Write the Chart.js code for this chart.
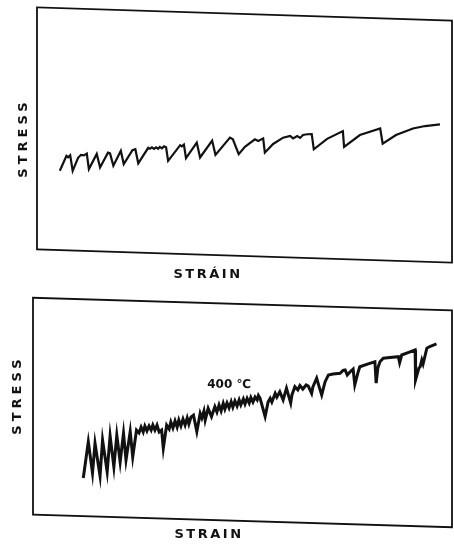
<!DOCTYPE html>
<html>
<head>
<meta charset="utf-8">
<script src="https://cdn.jsdelivr.net/npm/chart.js@4.4.1/dist/chart.umd.min.js"></script>
<style>
  body { margin: 0; background: #fff; }
  canvas { position: absolute; left: 0; }
</style>
</head>
<body>
<canvas id="chart-top" width="454" height="290" style="top:0"></canvas>
<canvas id="chart-bottom" width="454" height="258" style="top:290px"></canvas>
<script>
// upper record: serrated curve, strain / stress in arbitrary units (0-100 across the box)
const topStrain = [5.5, 7.1, 7.5, 8.0, 8.6, 9.9, 10.6, 11.3, 12.0, 12.5,
  14.4, 15.2, 17.1, 17.6, 18.4, 20.2, 20.9, 23.0, 23.7, 24.4,
  26.8, 27.2, 27.7, 28.2, 28.7, 29.2, 29.6, 30.1, 30.6, 31.1,
  31.6, 34.5, 34.9, 35.4, 35.9, 38.5, 39.3, 42.2, 43.0, 46.5,
  47.2, 48.6, 50.1, 52.5, 53.3, 54.5, 54.9, 56.9, 59.3, 61.0,
  61.7, 62.7, 63.4, 64.1, 65.1, 66.2, 66.7, 69.9, 73.7, 74.0,
  77.8, 82.7, 83.3, 86.5, 90.6, 93.5, 97.1];
const topStress = [35.2, 41.4, 40.8, 41.6, 35.2, 40.6, 41.8, 41.6, 42.3, 35.9,
  42.2, 36.6, 42.7, 42.4, 37.3, 43.5, 38.0, 43.7, 44.1, 38.3,
  44.7, 44.3, 44.9, 44.3, 44.9, 44.3, 45.1, 44.5, 45.3, 44.9,
  39.3, 45.8, 45.3, 46.0, 40.4, 46.8, 40.7, 47.7, 41.8, 48.9,
  48.2, 42.1, 45.1, 48.2, 47.5, 48.6, 42.7, 46.3, 48.9, 49.6,
  48.6, 49.6, 48.8, 50.0, 50.3, 50.4, 44.1, 48.4, 51.6, 45.1,
  50.0, 52.7, 46.4, 50.0, 52.7, 53.7, 54.4];

// lower record (400 C)
const bottomStrain = [12.0, 13.2, 14.2, 14.8, 16.0, 16.6, 17.7, 18.4, 19.3, 20.0,
  20.8, 21.6, 22.2, 23.2, 23.8, 24.7, 25.3, 25.8, 26.3, 26.7,
  27.2, 27.7, 28.2, 28.6, 29.1, 29.6, 30.1, 30.7, 31.1, 31.9,
  32.5, 32.9, 33.4, 33.9, 34.4, 34.8, 35.3, 35.8, 36.3, 36.8,
  37.2, 37.7, 38.3, 39.1, 39.9, 40.3, 40.8, 41.1, 41.8, 42.6,
  43.4, 43.9, 44.4, 44.9, 45.4, 45.8, 46.3, 46.8, 47.3, 47.7,
  48.2, 48.7, 49.2, 49.6, 50.2, 50.6, 51.1, 51.6, 52.0, 52.5,
  53.0, 53.5, 53.8, 54.2, 55.4, 56.1, 56.6, 57.0, 57.8, 58.2,
  58.9, 59.7, 60.5, 61.1, 61.5, 61.8, 62.5, 63.2, 63.7, 64.4,
  65.2, 65.7, 66.5, 66.8, 67.7, 68.3, 68.9, 69.7, 70.5, 71.6,
  73.3, 74.0, 74.5, 75.0, 75.7, 76.4, 76.8, 77.6, 78.0, 80.0,
  81.6, 81.9, 82.3, 82.8, 83.6, 85.2, 87.2, 87.5, 88.0, 89.5,
  91.2, 91.3, 92.1, 92.4, 92.8, 93.1, 94.0, 94.7, 96.3];
const bottomStress = [19.8, 36.5, 22.1, 35.8, 20.7, 37.3, 22.7, 39.2, 24.9, 39.6,
  27.2, 40.4, 28.1, 41.2, 29.5, 41.9, 40.6, 43.3, 41.0, 43.8,
  41.5, 43.8, 41.9, 44.2, 41.9, 44.2, 41.0, 41.9, 33.5, 44.2,
  42.4, 45.6, 42.9, 46.1, 43.3, 46.5, 43.8, 47.0, 44.2, 47.5,
  44.7, 47.9, 48.8, 41.2, 49.6, 47.5, 50.7, 46.5, 51.9, 48.1,
  52.7, 50.2, 53.5, 50.7, 54.2, 51.6, 54.4, 52.1, 55.0, 52.5,
  55.3, 53.0, 55.8, 53.5, 56.2, 53.9, 56.5, 54.4, 56.9, 54.8,
  57.1, 55.8, 57.8, 56.5, 48.1, 54.8, 56.5, 54.8, 58.8, 57.1,
  59.6, 55.8, 61.2, 57.1, 54.4, 58.1, 61.9, 60.4, 62.4, 60.8,
  62.7, 62.2, 58.8, 61.8, 65.8, 61.8, 58.1, 64.1, 67.3, 67.7,
  68.1, 69.4, 69.6, 67.3, 68.8, 70.0, 62.7, 68.7, 71.1, 72.4,
  73.4, 63.5, 70.5, 73.4, 75.0, 75.3, 75.7, 73.0, 76.5, 77.6,
  78.8, 65.0, 70.5, 71.1, 74.2, 72.4, 79.6, 80.4, 81.6];

const bottomNote = { text: "400 ℃", strain: 46.8, stress: 62.7 };

// box (a bit skewed, like the scan) + axis lettering + note
const recorderPlugin = {
  id: "recorder",
  afterDatasetsDraw(chart, args, opts) {
    const { ctx, chartArea: a } = chart;
    const cx = (a.left + a.right) / 2;
    const cy = (a.top + a.bottom) / 2;

    ctx.save();
    ctx.translate(cx, cy);
    ctx.transform(1, opts.skew, 0, 1, 0, 0);
    ctx.lineWidth = 1.8;
    ctx.strokeStyle = "#111";
    ctx.strokeRect(a.left - cx, a.top - cy, a.right - a.left, a.bottom - a.top);
    ctx.restore();

    ctx.save();
    ctx.fillStyle = "#111";
    ctx.font = "bold 13px 'DejaVu Sans', sans-serif";
    ctx.textAlign = "center";
    ctx.textBaseline = "middle";
    ctx.letterSpacing = "2.5px";
    ctx.fillText(opts.xLabel, opts.xLabelAt[0], opts.xLabelAt[1]);
    ctx.translate(opts.yLabelAt[0], opts.yLabelAt[1]);
    ctx.rotate(-Math.PI / 2);
    ctx.letterSpacing = "4px";
    ctx.fillText(opts.yLabel, 0, 0);
    ctx.restore();

    if (opts.note) {
      const x = chart.scales.x.getPixelForValue(opts.note.strain);
      const y = chart.scales.y.getPixelForValue(opts.note.stress);
      ctx.save();
      ctx.fillStyle = "#111";
      ctx.font = "bold 12px 'DejaVu Sans', sans-serif";
      ctx.textAlign = "center";
      ctx.textBaseline = "middle";
      ctx.fillText(opts.note.text, x, y);
      ctx.restore();
    }
  }
};

function makePanel(id, strain, stress, width, padding, recorder) {
  return new Chart(document.getElementById(id), {
    type: "line",
    data: {
      datasets: [{
        data: strain.map((s, i) => ({ x: s, y: stress[i] })),
        borderColor: "#111",
        borderWidth: width,
        pointRadius: 0,
        tension: 0,
        fill: false
      }]
    },
    options: {
      responsive: false,
      animation: false,
      devicePixelRatio: 1,
      layout: { padding: padding },
      plugins: {
        legend: { display: false },
        tooltip: { enabled: false },
        recorder: recorder
      },
      scales: {
        x: { type: "linear", display: false, min: 0, max: 100 },
        y: { display: false, min: 0, max: 100 }
      }
    },
    plugins: [recorderPlugin]
  });
}

makePanel("chart-top", topStrain, topStress, 2.2,
  { left: 37, right: 2, top: 14, bottom: 34 },
  { skew: 0.032, xLabel: "STRÁIN", xLabelAt: [208, 275], yLabel: "STRESS", yLabelAt: [24, 138] });

makePanel("chart-bottom", bottomStrain, bottomStress, 3,
  { left: 33, right: 2, top: 14, bottom: 27 },
  { skew: 0.03, xLabel: "STRAIN", xLabelAt: [209, 245], yLabel: "STRESS", yLabelAt: [18, 105], note: bottomNote });
</script>
</body>
</html>
